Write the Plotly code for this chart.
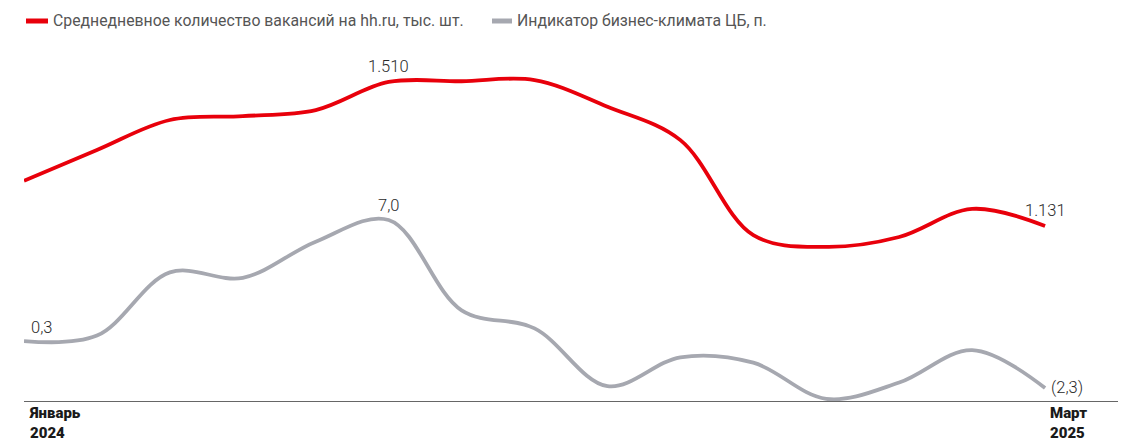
import plotly.graph_objects as go

months = ["Янв 2024", "Фев 2024", "Мар 2024", "Апр 2024", "Май 2024", "Июн 2024",
          "Июл 2024", "Авг 2024", "Сен 2024", "Окт 2024", "Ноя 2024", "Дек 2024",
          "Янв 2025", "Фев 2025", "Мар 2025"]
vacancies = [1250, 1331, 1410, 1420, 1436, 1510, 1512, 1515, 1445, 1357, 1107, 1076, 1102, 1176, 1131]
business_climate = [0.3, 0.6, 4.1, 3.8, 5.8, 7.0, 2.0, 1.0, -2.2, -0.6, -0.9, -2.9, -2.0, -0.2, -2.3]

series_names = ["Среднедневное количество вакансий на hh.ru, тыс. шт.",
                "Индикатор бизнес-климата ЦБ, п."]
tick_labels = ["Январь<br>2024", "Март<br>2025"]
tick_index = [0, 14]

vac_labels = [(5, "1.510"), (14, "1.131")]
bc_labels = [(0, "0,3"), (5, "7,0"), (14, "(2,3)")]

RED = "#e8000b"
GREY = "#a6a8b0"
FONT = "Roboto"

# page offset (browser body margin)
OFF = 8
W, H = 1133, 447
L, R, T, B = 24 - OFF, 15 + OFF, 50 - OFF, 46 + OFF
pw, ph = W - L - R, H - T - B

def px(x):
    return (x - OFF - L) / pw

def py(y):
    return (H - B - (y - OFF)) / ph

xi = list(range(len(months)))

fig = go.Figure()
fig.add_trace(go.Scatter(x=xi, y=vacancies, mode="lines", name=series_names[0],
                         line=dict(color=RED, width=3.8, shape="spline", smoothing=1.0),
                         hoverinfo="y", yaxis="y"))
fig.add_trace(go.Scatter(x=xi, y=business_climate, mode="lines", name=series_names[1],
                         line=dict(color=GREY, width=3.8, shape="spline", smoothing=1.0),
                         hoverinfo="y", yaxis="y2"))

lab_font = dict(family=FONT, size=16.5, color="#2a2a2a", weight=300)
ann = []
for i, t in vac_labels:
    ann.append(dict(x=xi[i], y=vacancies[i], xref="x", yref="y", text=t, showarrow=False,
                    yshift=15, font=lab_font, xanchor="center"))
for i, t in bc_labels:
    if i == 0:
        ann.append(dict(x=xi[i], y=business_climate[i], xref="x", yref="y2", text=t, showarrow=False,
                        yshift=14, xshift=5, xanchor="left", font=lab_font))
    elif i == 14:
        ann.append(dict(x=xi[i], y=business_climate[i], xref="x", yref="y2", text=t, showarrow=False,
                        xshift=4, xanchor="left", yanchor="middle", font=lab_font))
    else:
        ann.append(dict(x=xi[i], y=business_climate[i], xref="x", yref="y2", text=t, showarrow=False,
                        yshift=14, xanchor="center", font=lab_font))

for i, t in zip(tick_index, tick_labels):
    ann.append(dict(x=xi[i], y=0, xref="x", yref="paper", text=t, showarrow=False,
                    xanchor="left", yanchor="top", align="left", xshift=3, yshift=-1,
                    font=dict(family=FONT, size=15, color="#1a1a1a", weight=900)))

legend_items = [(26, 48, 51, RED, series_names[0]), (492, 512, 515, GREY, series_names[1])]
shapes = []
for x0, x1, xt, col, name in legend_items:
    shapes.append(dict(type="line", xref="paper", yref="paper", x0=px(x0), x1=px(x1),
                       y0=py(21), y1=py(21), line=dict(color=col, width=5)))
    ann.append(dict(x=px(xt), y=py(21), xref="paper", yref="paper", text=name, showarrow=False,
                    xanchor="left", yanchor="middle", font=dict(family=FONT, size=15.8, color="#555")))

fig.update_layout(
    width=W, height=H,
    margin=dict(l=L, r=R, t=T, b=B),
    paper_bgcolor="white", plot_bgcolor="white",
    showlegend=False,
    xaxis=dict(range=[0, 15], showgrid=False, zeroline=False, showticklabels=False,
               showline=True, linecolor="#666", linewidth=1, ticks=""),
    yaxis=dict(range=[670.4, 1594.2], visible=False, showgrid=False),
    yaxis2=dict(range=[-3.02, 16.41], overlaying="y", visible=False, showgrid=False),
    annotations=ann,
    shapes=shapes,
)

fig.write_html("out.html")
